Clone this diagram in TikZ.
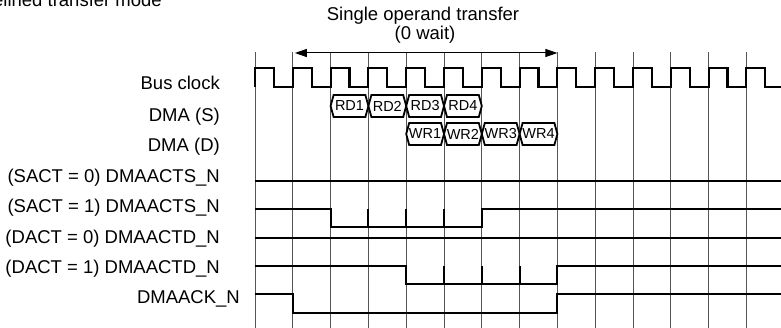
\documentclass[tikz,border=0pt]{standalone}
\usepackage{fontspec}
\setmainfont{Liberation Sans}
\usetikzlibrary{arrows.meta}
\definecolor{gridgray}{RGB}{85,85,85}

\begin{document}
\begin{tikzpicture}[x=1pt, y=-1pt, >={Triangle[length=12pt,width=8pt]},
    sig/.style={line width=2.1pt, black},
    gridline/.style={line width=1pt, gridgray},
    busbox/.style={line width=1.8pt, black, line join=miter},
    lbl/.style={anchor=base east, inner sep=0pt, font=\fontsize{18.5}{20}\selectfont},
    buslbl/.style={inner sep=0pt, font=\fontsize{14.5}{15}\selectfont}]
        \def\X{255}   % first grid line
        \def\T{37.8}  % clock period
        \def\R{781}   % right edge
        \def\d{3}     % bus box point
        \useasboundingbox (0,0) rectangle (781,328);

        % -- Grid lines, one per clock period --
        \foreach \k in {0,...,13}
            \draw[gridline] ({\X+\k*\T},52) -- ({\X+\k*\T},328);

        % -- Bus clock --
        \draw[sig] (\X,87) -- (\X,68)
            \foreach \k in {0,...,12}{ -- ++(\T/2,0) -- ++(0,19) -- ++(\T/2,0) -- ++(0,-19) }
            -- ++(\T/2,0) -- ++(0,19) -- (\R,87);

        % -- Transfer arrow and title --
        \draw[<->,line width=1pt] ({\X+\T+2},53) -- ({\X+8*\T},53);
        \node[lbl, anchor=base] (title) at (423,21) {Single operand transfer};
        \node[lbl, anchor=base] (wait) at (425,40) {(0 wait)};
        \node[lbl] (mode) at (162,7) {Pipelined transfer mode};

        % -- Row labels --
        \foreach \y/\t [count=\i] in {90/Bus clock, 122/DMA (S), 152/DMA (D),
            183/(SACT = 0) DMAACTS\_N, 213/(SACT = 1) DMAACTS\_N,
            244/(DACT = 0) DMAACTD\_N, 274/(DACT = 1) DMAACTD\_N}
            \node[lbl] (row\i) at (220,\y) {\t};
        \node[lbl] (ack) at (240,304) {DMAACK\_N};

        % -- DMA (S): read cycles --
        \foreach \k/\t in {2/RD1, 3/RD2, 4/RD3, 5/RD4}{
            \draw[busbox] ({\X+\k*\T},106) -- ({\X+\k*\T+\d},95) -- ({\X+(\k+1)*\T-\d},95)
                -- ({\X+(\k+1)*\T},106) -- ({\X+(\k+1)*\T-\d},117) -- ({\X+\k*\T+\d},117) -- cycle;
            \node[buslbl] (\t) at ({\X+(\k+0.5)*\T},106) {\t};
        }

        % -- DMA (D): write cycles --
        \foreach \k/\t in {4/WR1, 5/WR2, 6/WR3, 7/WR4}{
            \draw[busbox] ({\X+\k*\T},134) -- ({\X+\k*\T+\d},123) -- ({\X+(\k+1)*\T-\d},123)
                -- ({\X+(\k+1)*\T},134) -- ({\X+(\k+1)*\T-\d},145) -- ({\X+\k*\T+\d},145) -- cycle;
            \node[buslbl] (\t) at ({\X+(\k+0.5)*\T},134) {\t};
        }

        % -- DMAACTS_N --
        \draw[sig] (\X,181) -- (\R,181);
        \draw[sig] (\X,209) -- ({\X+2*\T},209) -- ({\X+2*\T},227) -- ({\X+6*\T},227)
            -- ({\X+6*\T},209) -- (\R,209);
        \foreach \k in {3,4,5}
            \draw[sig] ({\X+\k*\T},209) -- ({\X+\k*\T},227);

        % -- DMAACTD_N --
        \draw[sig] (\X,238) -- (\R,238);
        \draw[sig] (\X,266) -- ({\X+4*\T},266) -- ({\X+4*\T},284) -- ({\X+8*\T},284)
            -- ({\X+8*\T},266) -- (\R,266);
        \foreach \k in {5,6,7}
            \draw[sig] ({\X+\k*\T},266) -- ({\X+\k*\T},284);

        % -- DMAACK_N --
        \draw[sig] (\X,294) -- ({\X+\T},294) -- ({\X+\T},313) -- ({\X+8*\T},313)
            -- ({\X+8*\T},294) -- (\R,294);

    \end{tikzpicture}
\end{document}
